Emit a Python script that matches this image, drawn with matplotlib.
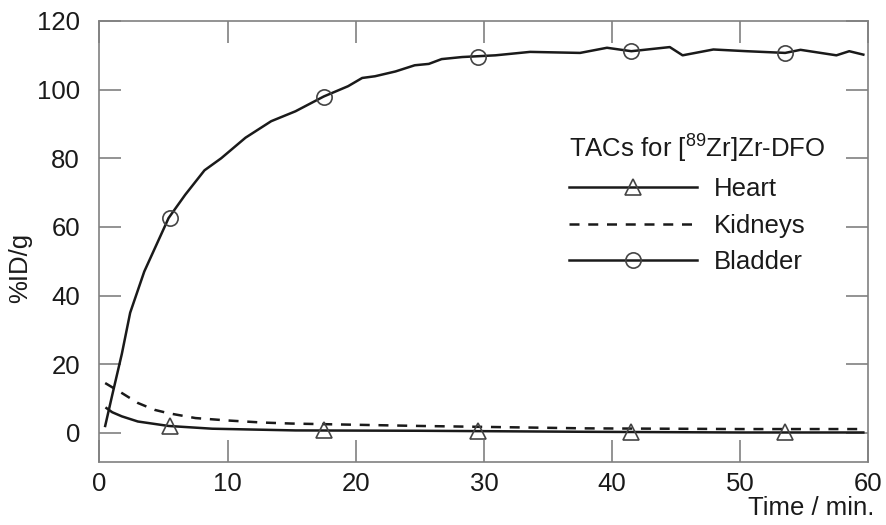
import matplotlib
matplotlib.use("Agg")
import matplotlib.pyplot as plt

plt.rcParams['font.family'] = ['Liberation Sans', 'DejaVu Sans']
plt.rcParams['mathtext.fontset'] = 'custom'
plt.rcParams['mathtext.rm'] = 'Liberation Sans'

# Time activity curves
bladder_t = [0.45, 1.0, 1.75, 2.4, 3.5, 5.4, 6.7, 8.2, 9.5, 11.4, 13.4, 15.3, 17.5, 19.4,
             20.5, 21.5, 23.1, 24.6, 25.7, 26.7, 28.3, 30.9, 33.6, 37.5, 39.6, 41.5, 44.5,
             45.5, 47.9, 50.5, 53.5, 54.7, 57.5, 58.5, 59.6]
bladder = [2.0, 11.0, 23.0, 35.0, 47.0, 62.6, 69.4, 76.5, 80.0, 86.0, 90.8, 93.7, 98.0, 101.0,
           103.4, 103.9, 105.3, 107.1, 107.5, 108.9, 109.5, 110.0, 111.0, 110.7, 112.2, 111.2, 112.4,
           110.0, 111.7, 111.2, 110.7, 111.6, 110.0, 111.2, 110.2]

heart_t = [0.55, 1.0, 1.75, 3.0, 5.4, 8.8, 15.3, 25.0, 38.0, 50.0, 59.6]
heart = [7.2, 6.0, 4.8, 3.3, 2.0, 1.2, 0.7, 0.6, 0.3, 0.1, 0.1]

kidneys_t = [0.45, 1.75, 3.0, 4.3, 5.4, 7.5, 10.0, 12.7, 15.0, 25.0, 38.0, 50.0, 59.6]
kidneys = [14.5, 11.6, 8.7, 6.7, 5.7, 4.3, 3.6, 3.0, 2.7, 2.0, 1.3, 1.1, 1.1]

# symbols drawn every 12 min
mark_t = [5.5, 17.5, 29.5, 41.5, 53.5]
bladder_marks = [62.6, 98.0, 109.5, 111.2, 110.7]
heart_marks = [1.9, 0.8, 0.5, 0.3, 0.1]

grey = "#808080"
ink = "#1a1a1a"
fs = 18.5

fig = plt.figure(figsize=(8.86, 5.25), dpi=100)
ax = fig.add_axes([0.1122, 0.12, 0.868, 0.84])

ax.plot(heart_t, heart, color=ink, lw=1.8)
ax.plot(kidneys_t, kidneys, color=ink, lw=1.8, dashes=(4, 3.5))
ax.plot(bladder_t, bladder, color=ink, lw=1.8)
ax.plot(mark_t, heart_marks, ls="none", marker="^", ms=12, mfc="none", mec="#444444", mew=1.2)
ax.plot(mark_t, bladder_marks, ls="none", marker="o", ms=11, mfc="none", mec="#444444", mew=1.2)

# legend handles
h1, = ax.plot([], [], color=ink, lw=1.8, marker="^", ms=12, mfc="none", mec="#444444", mew=1.2)
h2, = ax.plot([], [], color=ink, lw=1.8, dashes=(4, 3.5))
h3, = ax.plot([], [], color=ink, lw=1.8, marker="o", ms=11, mfc="none", mec="#444444", mew=1.2)
leg = ax.legend([h1, h2, h3], ["Heart", "Kidneys", "Bladder"],
                title=r"TACs for [$^{\mathregular{89}}$Zr]Zr-DFO",
                loc="upper left", bbox_to_anchor=(569 / 886, 1 - 131 / 525),
                bbox_transform=fig.transFigure, frameon=False, fontsize=fs,
                title_fontsize=fs, handlelength=5.0, handletextpad=0.62,
                labelspacing=0.5, borderpad=0, borderaxespad=0, numpoints=1,
                alignment="left")
for t in leg.get_texts():
    t.set_color(ink)
leg.get_title().set_color(ink)

ax.set_xlim(0, 60)
ax.set_ylim(-8.5, 120)
ax.set_xticks(range(0, 61, 10))
ax.set_yticks(range(0, 121, 20))
ax.tick_params(axis="both", direction="in", length=16, width=1.2, color=grey,
               top=True, right=True, labelsize=fs, labelcolor=ink)
ax.tick_params(axis="x", pad=7)
ax.tick_params(axis="y", pad=14)
for s in ax.spines.values():
    s.set_color(grey)
    s.set_linewidth(1.2)

fig.text(20 / 886, 1 - 268 / 525, "%ID/g", rotation=90, ha="center", va="center",
         fontsize=fs, color=ink)
fig.text(874 / 886, 1 - 508 / 525, "Time / min.", ha="right", va="center",
         fontsize=fs, color=ink)

fig.savefig("out.png", dpi=100)
